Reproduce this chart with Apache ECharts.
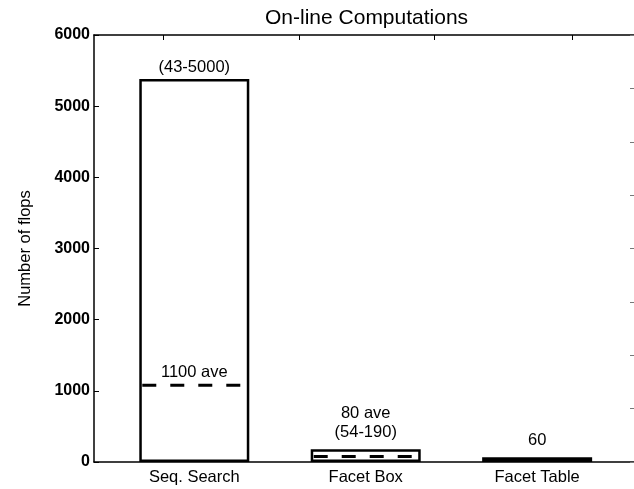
<!DOCTYPE html>
<html>
<head>
<meta charset="utf-8">
<script src="https://cdn.jsdelivr.net/npm/echarts@6/dist/echarts.min.js"></script>
<style>html,body{margin:0;padding:0;background:#fff;}#c{width:634px;height:489px;}</style>
</head>
<body>
<div id="c"></div>
<script>
// ---- data ----
var categories = ['Seq. Search', 'Facet Box', 'Facet Table'];
var categoryPos = [1, 2, 3];
var maxValues = [5380, 180, 65];
var aveValues = [1080, 78];          // dashed average lines (Seq. Search, Facet Box)
var aveLabels = ['1100 ave', ''];
var barLabels = ['(43-5000)', '80 ave\n(54-190)', '60'];
var yTicks = [0, 1000, 2000, 3000, 4000, 5000, 6000];
var topTickValues = [0.817, 1.614, 2.40, 3.204];

var FONT = '"Liberation Sans", Arial, Helvetica, sans-serif';
var chart = echarts.init(document.getElementById('c'), null, {renderer: 'canvas'});

var labelDistances = [2, 7, 7];
var barData = categoryPos.map(function (x, i) {
  return {
    value: [x, maxValues[i]],
    label: {distance: labelDistances[i]}
  };
});

var option = {
  backgroundColor: '#fff',
  animation: false,
  title: {
    text: 'On-line Computations',
    left: 260, top: 3,
    textStyle: {fontFamily: FONT, fontSize: 21, fontWeight: 'normal', color: '#000'}
  },
  grid: {left: 94, top: 35, bottom: 27, right: -1, containLabel: false},
  xAxis: [{
    type: 'value', min: 0.415, max: 3.565, position: 'bottom',
    axisLine: {show: true, onZero: false, lineStyle: {color: '#000', width: 1.5}},
    axisTick: {show: false},
    splitLine: {show: false},
    axisLabel: {
      customValues: categoryPos,
      formatter: function (v) { return categories[categoryPos.indexOf(v)] || ''; },
      fontFamily: FONT, fontSize: 16.5, color: '#000', margin: 7
    }
  }, {
    type: 'value', min: 0.415, max: 3.565, position: 'top',
    axisLine: {show: true, onZero: false, lineStyle: {color: '#000', width: 1.5}},
    axisTick: {show: true, inside: true, length: 5, customValues: topTickValues, lineStyle: {color: '#000', width: 1}},
    axisLabel: {show: false},
    splitLine: {show: false}
  }],
  yAxis: [{
    type: 'value', min: 0, max: 6000, interval: 1000,
    name: 'Number of flops', nameLocation: 'middle', nameGap: 60,
    nameTextStyle: {fontFamily: FONT, fontSize: 16.5, color: '#000'},
    axisLine: {show: true, onZero: false, lineStyle: {color: '#000', width: 1.5}},
    axisTick: {show: true, inside: true, length: 5, lineStyle: {color: '#000', width: 1}},
    axisLabel: {
      fontFamily: FONT, fontSize: 16, fontWeight: 'bold', color: '#000', margin: 4,
      formatter: function (v) { return yTicks.indexOf(v) >= 0 ? String(v) : ''; }
    },
    splitLine: {show: false}
  }, {
    type: 'value', min: 0, max: 8, interval: 1, position: 'right',
    axisLine: {show: true, onZero: false, lineStyle: {color: '#000', width: 1}},
    axisTick: {show: true, inside: true, length: 4, lineStyle: {color: '#777', width: 1}},
    axisLabel: {show: false},
    splitLine: {show: false}
  }],
  series: [{
    type: 'bar',
    xAxisIndex: 0, yAxisIndex: 0,
    barWidth: 110,
    data: barData,
    itemStyle: {color: '#fff', borderColor: '#000', borderWidth: 2.5},
    label: {
      show: true, position: 'top',
      fontFamily: FONT, fontSize: 16.5, color: '#000', lineHeight: 19,
      formatter: function (p) { return barLabels[p.dataIndex]; }
    },
    z: 2
  }, {
    type: 'custom',
    xAxisIndex: 0, yAxisIndex: 0,
    data: aveValues.map(function (v, i) { return [categoryPos[i], v]; }),
    renderItem: function (params, api) {
      var p = api.coord([api.value(0), api.value(1)]);
      var half = 52;
      var children = [{
        type: 'line',
        shape: {x1: p[0] - half, y1: p[1], x2: p[0] + half, y2: p[1]},
        style: {stroke: '#000', lineWidth: 3, lineDash: [14, 14]}
      }];
      var t = aveLabels[params.dataIndex];
      if (t) {
        children.push({
          type: 'text',
          x: p[0], y: p[1] - 4,
          style: {text: t, fontFamily: FONT, fontSize: 16.5, fill: '#000', textAlign: 'center', textVerticalAlign: 'bottom'}
        });
      }
      return {type: 'group', children: children};
    },
    z: 3
  }]
};
chart.setOption(option);
</script>
</body>
</html>
